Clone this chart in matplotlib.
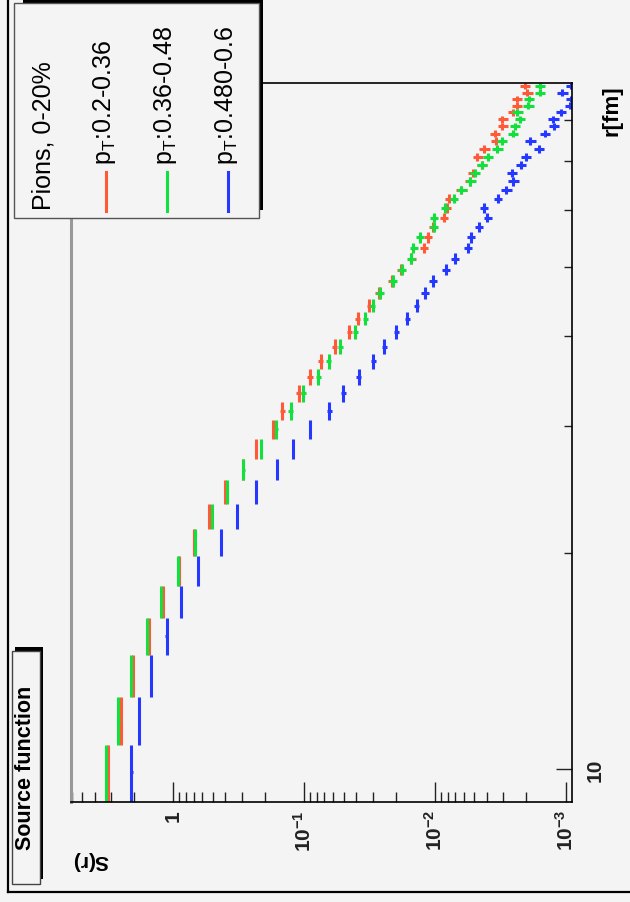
import matplotlib
matplotlib.use("Agg")
import matplotlib.pyplot as plt
from matplotlib.lines import Line2D
from matplotlib.patches import Rectangle
from matplotlib.ticker import NullFormatter

plt.rcParams["font.family"] = ["Liberation Sans", "DejaVu Sans"]
plt.rcParams["mathtext.fontset"] = "custom"
plt.rcParams["mathtext.rm"] = "Liberation Sans"
plt.rcParams["mathtext.it"] = "Liberation Sans:italic"
plt.rcParams["mathtext.bf"] = "Liberation Sans:bold"

# bin centres of r [fm] (bin width 1.8 fm)
r_centers = [9.9, 11.7, 13.5, 15.3, 17.1, 18.9, 20.7, 22.5, 24.3, 26.1,
             27.9, 29.7, 31.5, 33.3, 35.1, 36.9, 38.7, 40.5, 42.3, 44.1,
             45.9, 47.7, 49.5, 51.3, 53.1, 54.9, 56.7, 58.5, 60.3, 62.1,
             63.9, 65.7, 67.5, 69.3, 71.1, 72.9, 74.7, 76.5, 78.3, 80.1,
             81.9, 83.7, 85.5, 87.3, 89.1]
r_half_width = 0.9

s_pt_low = [3.15, 2.54, 2.05, 1.55, 1.21, 0.908, 0.693, 0.532, 0.402, 0.295,
            0.234, 0.172, 0.147, 0.110, 0.0903, 0.0748, 0.0584, 0.0452, 0.0390, 0.0318,
            0.0269, 0.0213, 0.0182, 0.0151, 0.0121, 0.0113, 0.0103, 0.00849, 0.00812, 0.00783,
            0.00628, 0.00539, 0.00511, 0.00439, 0.00472, 0.00419, 0.00339, 0.00347, 0.00304, 0.00304,
            0.00251, 0.00237, 0.00235, 0.00196, 0.00204]
s_pt_mid = [3.28, 2.64, 2.10, 1.60, 1.24, 0.919, 0.685, 0.510, 0.388, 0.292,
            0.215, 0.163, 0.127, 0.102, 0.078, 0.0650, 0.0532, 0.0406, 0.0341, 0.0299,
            0.0262, 0.0209, 0.0179, 0.0153, 0.0146, 0.0130, 0.0102, 0.0101, 0.00833, 0.00717,
            0.00626, 0.00534, 0.00493, 0.00439, 0.00394, 0.00333, 0.00308, 0.00254, 0.00244, 0.00223,
            0.00234, 0.00193, 0.00190, 0.00157, 0.00157]
s_pt_high = [2.10, 1.83, 1.49, 1.13, 0.876, 0.646, 0.433, 0.328, 0.234, 0.161,
             0.122, 0.0903, 0.0643, 0.0502, 0.0383, 0.0296, 0.0245, 0.0198, 0.0163, 0.0138,
             0.0120, 0.0103, 0.00818, 0.00699, 0.00560, 0.00530, 0.00457, 0.00396, 0.00421, 0.00327,
             0.00284, 0.00251, 0.00257, 0.00219, 0.00201, 0.00160, 0.00186, 0.00144, 0.00123, 0.00124,
             0.00109, 0.000925, 0.000914, 0.00106, 0.000906]
# relative error on S(r)
rel_err = ([0.02] * 12) + ([0.045] * 8) + ([0.07] * 10) + ([0.09] * 15)

series = [s_pt_low, s_pt_mid, s_pt_high]
labels = [r"p$_{\mathrm{T}}$:0.2-0.36", r"p$_{\mathrm{T}}$:0.36-0.48",
          r"p$_{\mathrm{T}}$:0.480-0.6"]
colors = ["#ff5a38", "#12e03c", "#2438ff"]
header = "Pions, 0-20%"

s_ticks = [1, 0.1, 0.01, 0.001]
s_tick_labels = ["1", r"$\mathbf{10^{-1}}$", r"$\mathbf{10^{-2}}$", r"$\mathbf{10^{-3}}$"]
r_ticks = [10]
r_tick_labels = ["10"]
r_minor = [20, 30, 40, 50, 60, 70, 80]

W, H = 630, 903
BG = "#f4f4f4"


def fx(px):
    return px / W


def fy(py):
    return 1 - py / H


fig = plt.figure(figsize=(W / 100, H / 100), dpi=100, facecolor=BG)
ax = fig.add_axes([fx(70.7), fy(803), fx(572) - fx(70.7), fy(84) - fy(803)])
ax.set_facecolor(BG)

for s, c in zip(series, colors):
    xerr = [v * e for v, e in zip(s, rel_err)]
    ax.errorbar(s, r_centers, xerr=xerr, yerr=r_half_width, fmt="none",
                ecolor=c, elinewidth=2.2, capsize=0)

ax.set_xscale("log")
ax.set_yscale("log")
ax.set_xlim(6.115, 8.93e-4)
ax.set_ylim(9, 90)

s_minor = [m * d for d in (0.001, 0.01, 0.1) for m in range(2, 10)] + [2, 3, 4, 5, 6]
ax.set_xticks(s_ticks)
ax.set_xticklabels(s_tick_labels, rotation=90, fontweight="bold")
ax.set_xticks(s_minor, minor=True)
ax.xaxis.set_minor_formatter(NullFormatter())

ax.yaxis.set_ticks_position("right")
ax.set_yticks(r_ticks)
ax.set_yticklabels(r_tick_labels, rotation=90, fontweight="bold", va="center")
ax.set_yticks(r_minor, minor=True)
ax.yaxis.set_minor_formatter(NullFormatter())

ax.tick_params(axis="x", which="major", direction="in", length=14.4, width=1,
               labelsize=15, pad=5, colors="#222222")
ax.tick_params(axis="x", which="minor", direction="in", length=7.2, width=1,
               colors="#222222")
ax.tick_params(axis="y", which="major", direction="in", length=11.5, width=1,
               labelsize=15, pad=10, colors="#222222")
ax.tick_params(axis="y", which="minor", direction="in", length=5.8, width=1,
               colors="#222222")

for side in ("top", "right", "bottom"):
    ax.spines[side].set_color("black")
    ax.spines[side].set_linewidth(1.2)
ax.spines["left"].set_color("#999999")
ax.spines["left"].set_linewidth(2.2)

# axis titles (picture is rotated by 90 degrees)
fig.text(fx(612), fy(85), "r[fm]", rotation=90, rotation_mode="anchor",
         ha="right", va="center", fontsize=16, fontweight="bold")
fig.text(fx(72), fy(861), "S(r)", rotation=180, rotation_mode="anchor",
         ha="right", va="center", fontsize=15, fontweight="bold")

# canvas border
fig.add_artist(Line2D([fx(7.5), fx(7.5)], [fy(0), fy(893)], color="black", lw=1.6))
fig.add_artist(Line2D([fx(7.5), fx(630)], [fy(893), fy(893)], color="black", lw=1.6))

# title box
fig.add_artist(Rectangle((fx(15), fy(880)), fx(43) - fx(15), fy(648) - fy(880),
                         transform=fig.transFigure, facecolor="black", edgecolor="none"))
fig.add_artist(Rectangle((fx(12), fy(885)), fx(40) - fx(12), fy(652) - fy(885),
                         transform=fig.transFigure, facecolor=BG, edgecolor="#444444", lw=1))
fig.text(fx(26), fy(768), "Source function", rotation=90, ha="center", va="center",
         fontsize=15.5, fontweight="bold")

# legend box with shadow
fig.add_artist(Rectangle((fx(23), fy(211)), fx(263) - fx(23), fy(0) - fy(211),
                         transform=fig.transFigure, facecolor="black", edgecolor="none"))
fig.add_artist(Rectangle((fx(14), fy(219)), fx(259) - fx(14), fy(4) - fy(219),
                         transform=fig.transFigure, facecolor=BG, edgecolor="#555555", lw=1))
fig.text(fx(44), fy(210), header, rotation=90, rotation_mode="anchor",
         ha="left", va="center", fontsize=18)
for i, (lab, c) in enumerate(zip(labels, colors)):
    x_line = 105.7 + 61 * i
    fig.add_artist(Line2D([fx(x_line), fx(x_line)], [fy(212), fy(173)], color=c, lw=2.2))
    fig.text(fx(x_line - 1), fy(165), lab, rotation=90, rotation_mode="anchor",
             ha="left", va="center", fontsize=18)

fig.savefig("out.png", dpi=100, facecolor=BG)
